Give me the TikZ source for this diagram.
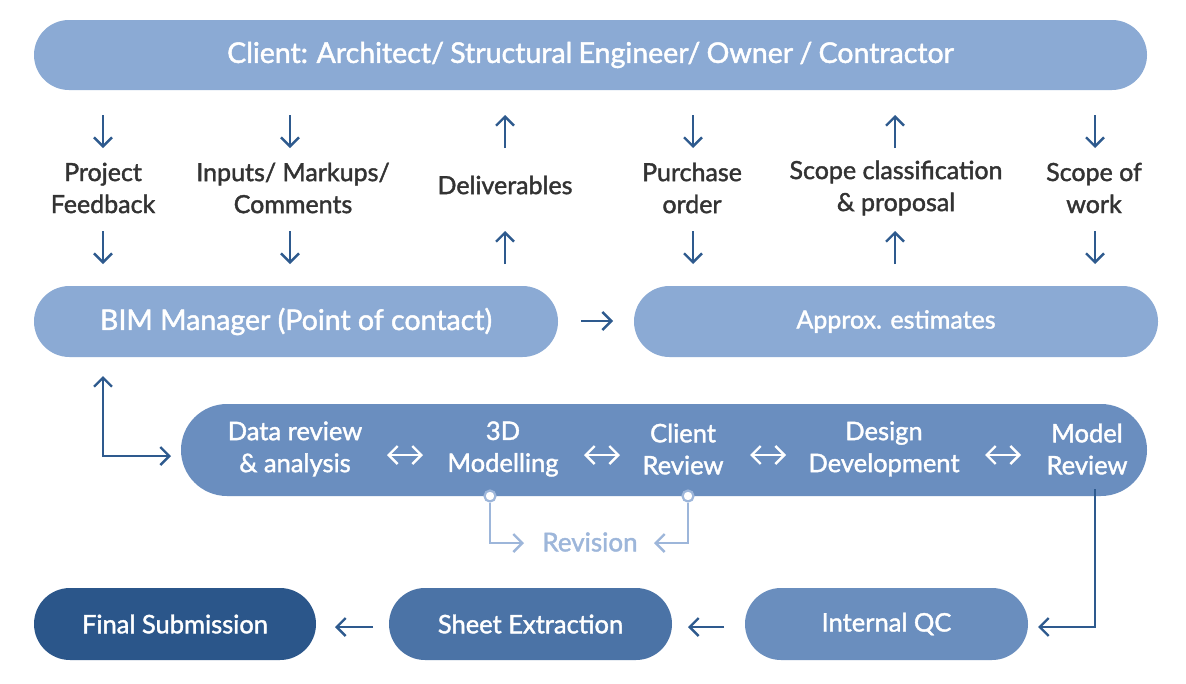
\documentclass[tikz,border=0pt]{standalone}
\usepackage{fontspec}
\setmainfont{Lato}[BoldFont={Lato}, BoldFeatures={FakeBold=1.6}]
\usetikzlibrary{arrows.meta}
\definecolor{cTop}{HTML}{8BAAD4}
\definecolor{cProc}{HTML}{6A8EBF}
\definecolor{cFinal}{HTML}{2B568A}
\definecolor{cSheet}{HTML}{4B73A6}
\definecolor{cQC}{HTML}{6A8EBE}
\definecolor{cArrow}{HTML}{2E5A8E}
\definecolor{cRev}{HTML}{9DB6DA}
\definecolor{cText}{HTML}{333333}
\tikzset{
  tip/.tip={Straight Barb[length=9pt,width=18pt,line width=2.4pt]},
  pill/.style={rectangle, draw=none, text=white, align=center, inner sep=0pt},
  lbl/.style={text=cText, align=center, inner sep=0pt, font=\fontsize{25}{32}\selectfont\bfseries},
  ptxt/.style={text=white, align=center, inner sep=0pt, font=\fontsize{25.5}{32}\selectfont\bfseries},
  arr/.style={draw=cArrow, line width=2.4pt, -tip},
  darr/.style={draw=white, line width=2.4pt, tip-tip},
  rarr/.style={draw=cRev, line width=2.4pt, -tip},
  dot/.style={circle, draw=cRev, fill=white, line width=2.2pt, minimum size=11pt, inner sep=0pt}
}
\begin{document}
\begin{tikzpicture}[x=1pt,y=-1pt]
\useasboundingbox (0,0) rectangle (1186,683);
\fill[white] (0,0) rectangle (1186,683);

% main boxes
\node[pill, fill=cTop, minimum width=1113pt, minimum height=70pt, rounded corners=35pt,
  font=\fontsize{28.5}{30}\selectfont\bfseries] (client) at (590.5,55) {\spaceskip=0.22em plus 0.1em\relax Client: Architect/ Structural Engineer/ Owner / Contractor};
\node[pill, fill=cTop, minimum width=524pt, minimum height=71pt, rounded corners=35.5pt,
  font=\fontsize{28.5}{30}\selectfont\bfseries] (bim) at (296,321.5) {BIM Manager (Point of contact)};
\node[pill, fill=cTop, minimum width=524pt, minimum height=71pt, rounded corners=35.5pt,
  font=\fontsize{25}{28}\selectfont\bfseries] (approx) at (896,321.5) {Approx. estimates};
\node[pill, fill=cProc, minimum width=966pt, minimum height=92pt, rounded corners=46pt] (proc) at (664,450) {};
\node[pill, fill=cFinal, minimum width=282pt, minimum height=72pt, rounded corners=36pt,
  font=\fontsize{25.5}{28}\selectfont\bfseries] (final) at (175,624) {Final Submission};
\node[pill, fill=cSheet, minimum width=283pt, minimum height=72pt, rounded corners=36pt,
  font=\fontsize{25.5}{28}\selectfont\bfseries] (sheet) at (530.5,624) {Sheet Extraction};
\node[pill, fill=cQC, minimum width=283pt, minimum height=72pt, rounded corners=36pt,
  font=\fontsize{25.5}{28}\selectfont\bfseries] (qc) at (886.5,624) {Internal QC};

% top labels
\node[lbl] (l1) at (103,188) {Project\\Feedback};
\node[lbl] (l2) at (293,188) {Inputs/ Markups/\\Comments};
\node[lbl] (l3) at (505,185) {Deliverables};
\node[lbl] (l4) at (692,188) {Purchase\\order};
\node[lbl] (l5) at (896,188) {Scope classification\\\& proposal};
\node[lbl] (l6) at (1094,188) {Scope of\\work};

% process texts
\node[ptxt] (p1) at (295,449) {Data review\\\& analysis};
\node[ptxt] (p2) at (503,449) {3D\\Modelling};
\node[ptxt] (p3) at (683,449) {Client\\Review};
\node[ptxt] (p4) at (884,449) {Design\\Development};
\node[ptxt] (p5) at (1087,449) {Model\\Review};

\node[text=cRev, inner sep=0pt, font=\fontsize{26}{28}\selectfont\bfseries] (rev) at (590,542) {Revision};

% top arrows: coordinates
\foreach \n/\x in {1/103,2/290,3/505,4/693,5/895,6/1095}{
  \coordinate (ua\n) at (\x,115);
  \coordinate (ub\n) at (\x,148);
  \coordinate (la\n) at (\x,231);
  \coordinate (lb\n) at (\x,264);
}
% down arrows
\foreach \n in {1,2,4,6}{
  \draw[arr] (ua\n) -- (ub\n);
  \draw[arr] (la\n) -- (lb\n);
}
% up arrows
\foreach \n in {3,5}{
  \draw[arr] (ub\n) -- (ua\n);
  \draw[arr] (lb\n) -- (la\n);
}

% BIM -> approx
\coordinate (ba1) at (581,321);
\coordinate (ba2) at (613,321);
\draw[arr] (ba1) -- (ba2);

% BIM <-> process elbow
\coordinate (e1) at (103,376);
\coordinate (e2) at (103,456);
\coordinate (e3) at (171,456);
\draw[draw=cArrow, line width=2.4pt, tip-tip] (e1) -- (e2) -- (e3);

% process double arrows
\foreach \n/\x in {1/405,2/602,3/768,4/1003}{
  \coordinate (da\n) at (\x-18,455);
  \coordinate (db\n) at (\x+18,455);
  \draw[darr] (da\n) -- (db\n);
}

% revision loop
\node[dot] (d1) at (490,496) {};
\node[dot] (d2) at (688,496) {};
\coordinate (r1) at (490,543);
\coordinate (r1e) at (524,543);
\coordinate (r2) at (688,543);
\coordinate (r2e) at (654,543);
\draw[rarr] (d1.south) -- (r1) -- (r1e);
\draw[rarr] (d2.south) -- (r2) -- (r2e);

% model review -> QC
\coordinate (m1) at (1095,489);
\coordinate (m2) at (1095,627);
\coordinate (m3) at (1038,627);
\draw[arr] (m1) -- (m2) -- (m3);

% bottom arrows
\coordinate (b1) at (373,627);
\coordinate (b2) at (335,627);
\coordinate (b3) at (724,627);
\coordinate (b4) at (688,627);
\draw[arr] (b1) -- (b2);
\draw[arr] (b3) -- (b4);
\end{tikzpicture}
\end{document}
